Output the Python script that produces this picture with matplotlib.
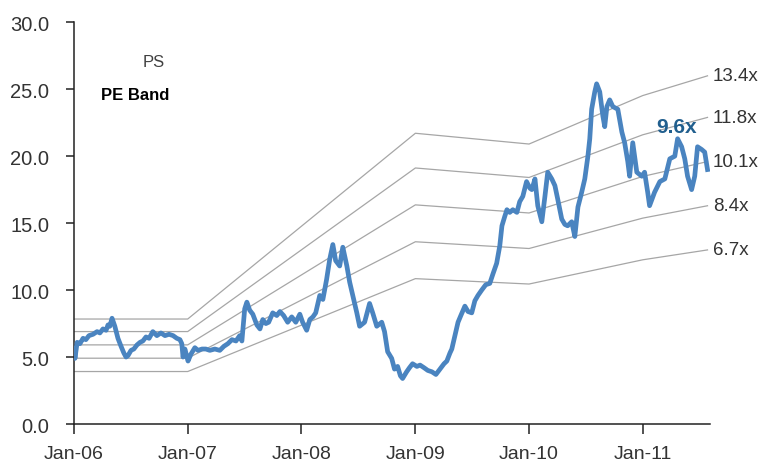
import matplotlib
matplotlib.use("Agg")
import matplotlib.pyplot as plt
import pandas as pd
import numpy as np

plt.rcParams['font.family'] = ['Liberation Sans', 'DejaVu Sans']

# ---- data ----
price_dates = [
    "2006-01-02", "2006-01-04", "2006-01-11", "2006-01-20", "2006-01-30", "2006-02-08", "2006-02-18",
    "2006-03-03", "2006-03-16", "2006-03-25", "2006-04-04", "2006-04-14", "2006-04-20", "2006-04-26",
    "2006-05-03", "2006-05-12", "2006-05-22", "2006-06-01", "2006-06-10", "2006-06-17", "2006-06-23",
    "2006-07-03", "2006-07-12", "2006-07-22", "2006-08-01", "2006-08-10", "2006-08-20", "2006-08-30",
    "2006-09-11", "2006-09-24", "2006-10-07", "2006-10-20", "2006-11-02", "2006-11-15", "2006-11-27",
    "2006-12-07", "2006-12-13", "2006-12-17", "2006-12-23",
    "2007-01-02", "2007-01-11", "2007-01-24", "2007-02-03", "2007-02-16", "2007-02-28", "2007-03-13",
    "2007-03-29", "2007-04-14", "2007-04-27", "2007-05-10", "2007-05-23", "2007-06-05", "2007-06-17",
    "2007-06-24", "2007-07-03", "2007-07-10", "2007-07-19", "2007-07-29", "2007-08-11", "2007-08-21",
    "2007-08-30", "2007-09-09", "2007-09-18", "2007-10-01", "2007-10-14", "2007-10-24", "2007-11-05",
    "2007-11-18", "2007-12-01", "2007-12-14", "2007-12-27",
    "2008-01-05", "2008-01-18", "2008-01-28", "2008-02-07", "2008-02-16", "2008-02-29", "2008-03-10",
    "2008-03-22", "2008-04-01", "2008-04-11", "2008-04-20", "2008-05-03", "2008-05-13", "2008-05-26",
    "2008-06-04", "2008-06-14", "2008-06-27", "2008-07-06", "2008-07-22", "2008-08-07", "2008-08-17",
    "2008-08-30", "2008-09-15", "2008-09-24", "2008-10-04", "2008-10-17", "2008-10-26", "2008-11-05",
    "2008-11-14", "2008-11-21", "2008-12-04", "2008-12-13", "2008-12-23",
    "2009-01-06", "2009-01-16", "2009-01-29", "2009-02-10", "2009-02-23", "2009-03-08", "2009-03-21",
    "2009-04-03", "2009-04-12", "2009-04-22", "2009-04-28", "2009-05-08", "2009-05-18", "2009-05-27",
    "2009-06-09", "2009-06-19", "2009-07-01", "2009-07-11", "2009-07-21", "2009-08-02", "2009-08-15",
    "2009-08-28", "2009-09-07", "2009-09-19", "2009-09-29", "2009-10-06", "2009-10-15", "2009-10-22",
    "2009-10-31", "2009-11-10", "2009-11-23", "2009-12-02", "2009-12-12", "2009-12-24",
    "2010-01-04", "2010-01-10", "2010-01-20", "2010-01-29", "2010-02-11", "2010-02-21", "2010-03-02",
    "2010-03-15", "2010-03-25", "2010-04-03", "2010-04-16", "2010-04-26", "2010-05-05", "2010-05-18",
    "2010-05-28", "2010-06-07", "2010-06-19", "2010-06-29", "2010-07-09", "2010-07-15", "2010-07-21",
    "2010-07-31", "2010-08-06", "2010-08-16", "2010-08-26", "2010-09-01", "2010-09-08", "2010-09-17",
    "2010-09-27", "2010-10-13", "2010-10-26", "2010-11-04", "2010-11-14", "2010-11-20", "2010-11-30",
    "2010-12-13", "2010-12-29",
    "2011-01-07", "2011-01-17", "2011-01-23", "2011-02-08", "2011-02-25", "2011-03-13", "2011-03-29",
    "2011-04-14", "2011-04-23", "2011-05-06", "2011-05-16", "2011-05-25", "2011-06-07", "2011-06-17",
    "2011-06-26", "2011-07-09", "2011-07-19", "2011-07-28",
]
price_values = [
    5.6, 4.9, 6.1, 6.0, 6.4, 6.3, 6.6,
    6.7, 6.9, 6.8, 7.1, 7.0, 7.4, 7.3,
    7.9, 7.3, 6.4, 5.8, 5.3, 5.0, 5.1,
    5.5, 5.6, 5.9, 6.1, 6.2, 6.5, 6.4,
    6.9, 6.6, 6.8, 6.6, 6.7, 6.6, 6.4,
    6.3, 6.0, 5.0, 5.6,
    4.7, 5.2, 5.7, 5.5, 5.6, 5.6, 5.5,
    5.6, 5.5, 5.8, 6.0, 6.3, 6.2, 6.6,
    6.2, 8.6, 9.1, 8.5, 8.2, 7.4, 7.1,
    7.8, 7.5, 7.6, 8.3, 8.1, 8.4, 8.1,
    7.6, 8.0, 7.6, 8.2,
    7.6, 7.0, 7.8, 8.0, 8.3, 9.6, 9.3,
    10.8, 12.3, 13.4, 12.2, 11.8, 13.2, 11.8,
    10.6, 9.6, 8.3, 7.3, 7.6, 9.0, 8.3,
    7.3, 7.6, 6.9, 5.4, 4.9, 4.1, 4.3,
    3.6, 3.4, 3.9, 4.2, 4.5,
    4.3, 4.4, 4.2, 4.0, 3.9, 3.7, 4.1,
    4.5, 4.7, 5.3, 5.6, 6.6, 7.6, 8.1,
    8.8, 8.4, 8.3, 9.2, 9.6, 10.0, 10.4,
    10.5, 11.2, 12.0, 13.3, 14.8, 15.5, 16.0,
    15.8, 16.0, 15.8, 16.6, 17.0, 18.1,
    17.6, 17.5, 18.3, 16.3, 15.1, 17.0, 18.8,
    18.3, 17.8, 16.8, 15.3, 14.9, 14.8, 15.1,
    14.0, 16.2, 17.3, 18.3, 20.0, 21.3, 23.5,
    24.8, 25.4, 24.8, 23.0, 22.2, 23.7, 24.2,
    23.7, 23.5, 21.8, 21.0, 19.6, 18.5, 21.0,
    18.8, 18.5,
    18.8, 17.3, 16.3, 17.3, 18.1, 18.3, 19.8,
    20.0, 21.3, 20.7, 19.8, 18.5, 17.5, 18.5,
    20.7, 20.5, 20.3, 19.0,
]

eps_dates = ["2006-01-01", "2007-01-01", "2009-01-01", "2010-01-01", "2011-01-01", "2011-07-28"]
eps_values = [0.585, 0.585, 1.62, 1.56, 1.83, 1.94]
band_multiples = [13.4, 11.8, 10.1, 8.4, 6.7]
band_labels = ["13.4x", "11.8x", "10.1x", "8.4x", "6.7x"]
current_pe_label = "9.6x"

y_ticks = [0, 5, 10, 15, 20, 25, 30]
x_tick_dates = ["2006-01-01", "2007-01-01", "2008-01-01", "2009-01-01", "2010-01-01", "2011-01-01"]

# ---- plot ----
fig = plt.figure(figsize=(7.64, 4.64), dpi=100)
ax = fig.add_axes([0.0969, 0.084, 0.832, 0.866])

ed = pd.to_datetime(eps_dates)
ev = np.array(eps_values)
for m, lab in zip(band_multiples, band_labels):
    ax.plot(ed, ev * m, color="#A6A6A6", lw=0.9, zorder=1)
    ax.annotate(lab, xy=(ed[-1], ev[-1] * m), xytext=(4, 0), textcoords="offset points",
                ha="left", va="center", fontsize=13.5, color="#333333")

pdates = pd.to_datetime(price_dates)
ax.plot(pdates, price_values, color="#4A84C0", lw=3.4, solid_joinstyle="round", zorder=3)

fig.text(0.885, 0.726, current_pe_label, fontsize=15,
         fontweight="bold", color="#215F8E", ha="center", va="center")
fig.text(0.2016, 0.866, "PS", fontsize=12, color="#404040",
         ha="center", va="center")
fig.text(0.177, 0.794, "PE Band", fontsize=12, fontweight="bold",
         color="black", ha="center", va="center")

ax.set_ylim(0, 30)
ax.set_yticks(y_ticks)
ax.set_yticklabels([f"{v:.1f}" for v in y_ticks])
ax.set_xlim(pd.Timestamp("2006-01-01"), pd.Timestamp("2011-08-04"))
xt = pd.to_datetime(x_tick_dates)
ax.set_xticks(xt)
ax.set_xticklabels([d.strftime("%b-%y") for d in xt])

for s in ["top", "right"]:
    ax.spines[s].set_visible(False)
for s in ["left", "bottom"]:
    ax.spines[s].set_color("#222222")
    ax.spines[s].set_linewidth(1.1)

ax.tick_params(axis="y", direction="out", length=6, width=1.1, pad=12, labelsize=14.5,
               labelcolor="#333333", color="#222222")
ax.tick_params(axis="x", direction="out", length=7, width=1.1, pad=8, labelsize=14,
               labelcolor="#333333", color="#222222")

fig.savefig("out.png", dpi=100)
